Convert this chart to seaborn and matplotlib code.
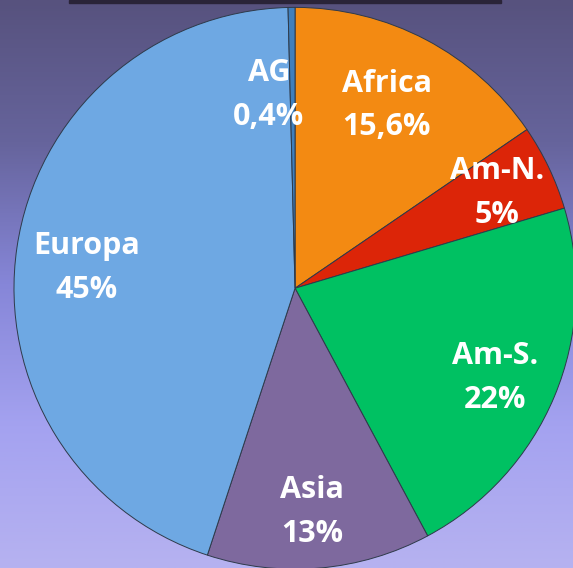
import numpy as np
import seaborn as sns
import matplotlib.pyplot as plt
from matplotlib.colors import LinearSegmentedColormap
from matplotlib.patches import Rectangle

# Dati
regioni = ['Africa', 'Am-N.', 'Am-S.', 'Asia', 'Europa', 'AG']
percentuali = [15.6, 5, 22, 13, 45, 0.4]
etichette = ['15,6%', '5%', '22%', '13%', '45%', '0,4%']

colori = ['#f38a12', '#dc2508', '#00c162', '#7e699e', '#6ea8e3', '#3f7fbd']
# posizione del testo dentro ogni fetta (coordinate del grafico)
pos_testo = [(0.327, 0.651), (0.719, 0.338), (0.712, -0.320),
             (0.060, -0.797), (-0.740, 0.071), (-0.093, 0.687)]

sns.set_theme(style="white")
plt.rcParams['font.family'] = ['Open Sans', 'DejaVu Sans']

fig = plt.figure(figsize=(5.73, 5.68), dpi=100)

# sfondo sfumato
bg = fig.add_axes([0, 0, 1, 1])
sfondo = LinearSegmentedColormap.from_list(
    'sfondo', ['#57527e', '#66649c', '#8686d8', '#a4a2f0', '#b6b2f0'])
grad = np.linspace(0, 1, 256).reshape(-1, 1)
bg.imshow(grad, aspect='auto', cmap=sfondo, extent=[0, 1, 0, 1], origin='upper')
bg.add_patch(Rectangle((0.12, 0.994), 0.755, 0.006, color='#2a2438'))
bg.set_axis_off()

ax = fig.add_axes([0.0244, -0.002, 0.981, 0.989])
wedges, _ = ax.pie(percentuali, colors=colori, startangle=90, counterclock=False,
                   radius=1, wedgeprops=dict(edgecolor='#2e3a4a', linewidth=0.7))
ax.set_xlim(-1, 1)
ax.set_ylim(-1, 1)
ax.set_aspect('auto')
ax.set_axis_off()

for nome, pct, (x, y) in zip(regioni, etichette, pos_testo):
    ax.text(x, y, f'{nome}\n{pct}', ha='center', va='center', color='white',
            fontsize=22, fontweight='bold', linespacing=1.6)

plt.savefig('out.png', dpi=100)
